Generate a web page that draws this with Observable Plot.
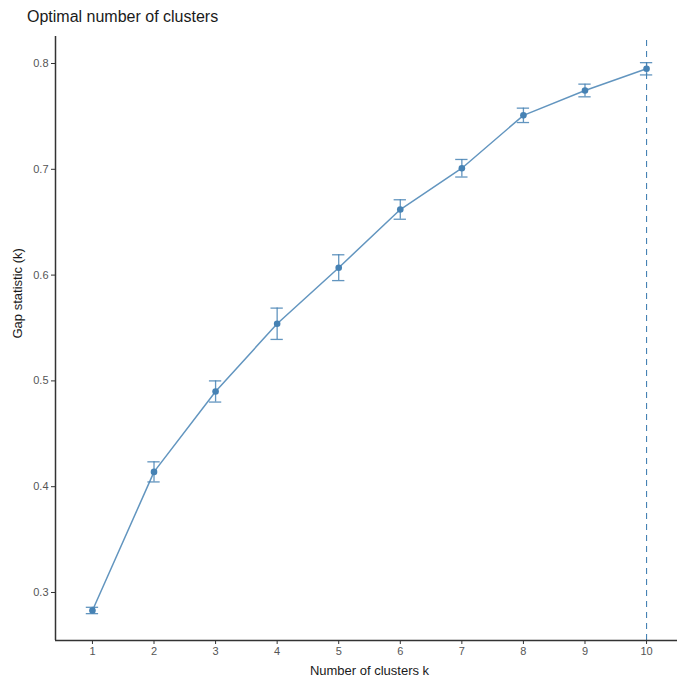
<!DOCTYPE html>
<html>
<head>
<meta charset="utf-8">
<script src="https://cdn.jsdelivr.net/npm/d3@7"></script>
<script src="https://cdn.jsdelivr.net/npm/@observablehq/plot@0.6"></script>
<style>
  html, body { margin: 0; padding: 0; background: #fff; }
  body { position: relative; width: 677px; height: 678px; overflow: hidden; font-family: "Liberation Sans", Arial, sans-serif; }
  #title { position: absolute; left: 27px; top: 8px; font-size: 16px; color: #1a1a1a; white-space: nowrap; }
  #chart { position: absolute; left: 0; top: 30px; }
  #chart svg { font-family: "Liberation Sans", Arial, sans-serif; overflow: hidden; }
</style>
</head>
<body>
<div id="title">Optimal number of clusters</div>
<div id="chart"></div>
<script>
const clusters = [1, 2, 3, 4, 5, 6, 7, 8, 9, 10];
const gap = [0.283, 0.414, 0.490, 0.554, 0.607, 0.662, 0.701, 0.751, 0.7745, 0.795];
const se = [0.003, 0.0095, 0.0100, 0.0148, 0.0122, 0.0092, 0.0083, 0.0068, 0.0060, 0.0058];
const optimalK = 10;
const xTicks = clusters;
const yTicks = [0.3, 0.4, 0.5, 0.6, 0.7, 0.8];

const data = clusters.map((k, i) => ({k, gap: gap[i], lo: gap[i] - se[i], hi: gap[i] + se[i]}));
const color = "steelblue";
const yDomain = [0.25463, 0.82552];
const xDomain = [0.4, 10.6];

const plot = Plot.plot({
  width: 677,
  height: 648,
  marginLeft: 55,
  marginRight: 0,
  marginTop: 6,
  marginBottom: 38,
  style: {fontSize: "11px", background: "white"},
  x: {domain: xDomain, range: [55, 683], ticks: xTicks, label: null},
  y: {domain: yDomain, range: [610, 6], ticks: yTicks, label: null},
  marks: [
    Plot.ruleX([optimalK], {y1: yDomain[0], y2: yDomain[1], stroke: color, strokeWidth: 1.1, strokeDasharray: "6,5"}),
    Plot.line(data, {x: "k", y: "gap", stroke: color, strokeWidth: 1.5, strokeOpacity: 0.85}),
    Plot.ruleX(data, {x: "k", y1: "lo", y2: "hi", stroke: color, strokeWidth: 1.3, strokeOpacity: 0.85}),
    Plot.ruleY(data, {y: "lo", x1: d => d.k - 0.1, x2: d => d.k + 0.1, stroke: color, strokeWidth: 1.3, strokeOpacity: 0.85}),
    Plot.ruleY(data, {y: "hi", x1: d => d.k - 0.1, x2: d => d.k + 0.1, stroke: color, strokeWidth: 1.3, strokeOpacity: 0.85}),
    Plot.dot(data, {x: "k", y: "gap", r: 3.3, fill: color}),
    Plot.axisX({ticks: xTicks, tickSize: 4, tickPadding: 3, tickFormat: d3.format("d"), color: "#555", stroke: "#333", label: null}),
    Plot.axisY({ticks: yTicks, tickSize: 4, tickPadding: 3, tickFormat: d3.format(".1f"), color: "#555", stroke: "#333", label: null}),
    Plot.ruleX([xDomain[0]], {y1: yDomain[0], y2: yDomain[1], stroke: "#333", strokeWidth: 1.5}),
    Plot.ruleY([yDomain[0]], {x1: xDomain[0], x2: xDomain[1], stroke: "#333", strokeWidth: 1.5}),
    Plot.text(["Number of clusters k"], {frameAnchor: "bottom", x: (xDomain[0] + xDomain[1]) / 2, dy: 34, fontSize: 13, fill: "#1a1a1a"}),
    Plot.text(["Gap statistic (k)"], {frameAnchor: "left", rotate: -90, dx: -38, fontSize: 13, fill: "#1a1a1a"})
  ]
});
document.getElementById("chart").appendChild(plot);
</script>
</body>
</html>
